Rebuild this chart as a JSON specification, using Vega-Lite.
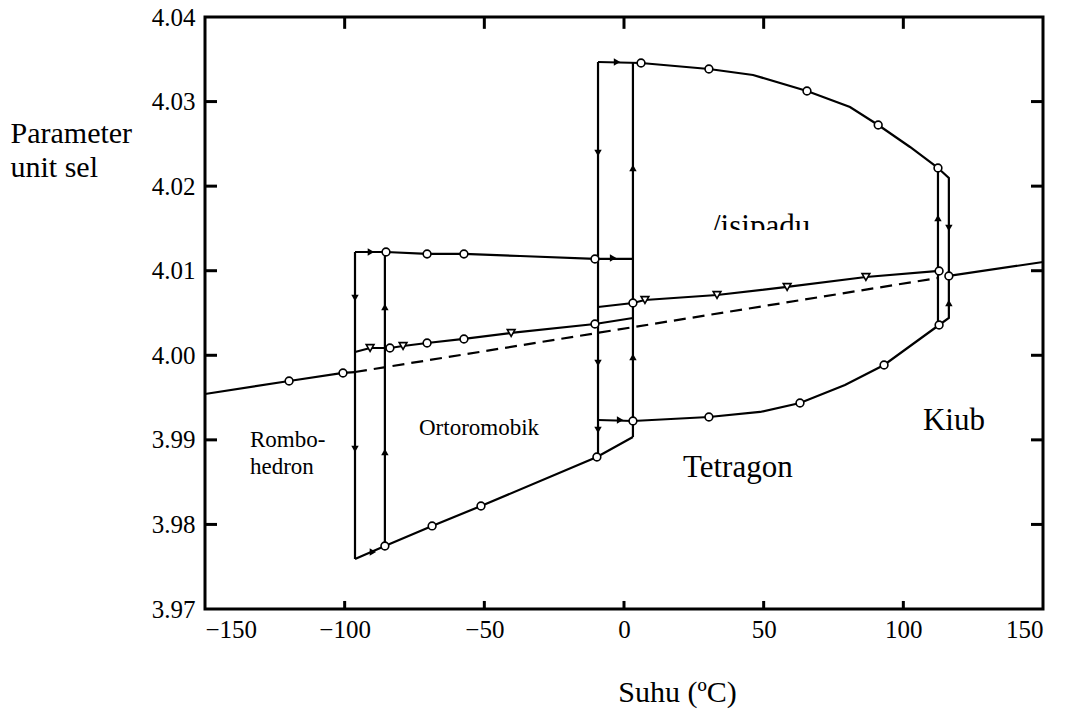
{
  "$schema": "https://vega.github.io/schema/vega-lite/v6.json",
  "width": 838,
  "height": 592,
  "autosize": {"type": "none"},
  "padding": {"left": 205, "top": 17, "right": 28, "bottom": 103},
  "background": "white",
  "config": {
    "view": {"stroke": "black", "strokeWidth": 3},
    "font": "Liberation Serif",
    "axis": {"domain": false, "grid": false, "ticks": false, "labelColor": "black", "titleColor": "black", "labelFont": "Liberation Serif", "titleFont": "Liberation Serif", "titleFontWeight": "normal"}
  },
  "resolve": {"axis": {"x": "independent", "y": "independent"}},
  "datasets": {
    "lines": [
      {"s": "cubicL", "o": 1, "x": -150, "y": 3.99542},
      {"s": "cubicL", "o": 2, "x": -119.9, "y": 3.99696},
      {"s": "cubicL", "o": 3, "x": -100.6, "y": 3.99791},
      {"s": "cubicL", "o": 4, "x": -96.3, "y": 3.99802},
      {"s": "cubicDash", "o": 1, "x": -96.3, "y": 3.99802},
      {"s": "cubicDash", "o": 2, "x": 112.4, "y": 4.00914},
      {"s": "cubicR", "o": 1, "x": 116.3, "y": 4.00938},
      {"s": "cubicR", "o": 2, "x": 150, "y": 4.01103},
      {"s": "orthoUpper", "o": 1, "x": -96.3, "y": 4.01221},
      {"s": "orthoUpper", "o": 2, "x": -85.2, "y": 4.01221},
      {"s": "orthoUpper", "o": 3, "x": -70.5, "y": 4.01198},
      {"s": "orthoUpper", "o": 4, "x": -57.3, "y": 4.01198},
      {"s": "orthoUpper", "o": 5, "x": -37.2, "y": 4.01174},
      {"s": "orthoUpper", "o": 6, "x": -10.4, "y": 4.01139},
      {"s": "orthoUpper", "o": 7, "x": 2.9, "y": 4.01139},
      {"s": "orthoLower", "o": 1, "x": -96.3, "y": 3.97591},
      {"s": "orthoLower", "o": 2, "x": -85.6, "y": 3.97745},
      {"s": "orthoLower", "o": 3, "x": -68.7, "y": 3.97982},
      {"s": "orthoLower", "o": 4, "x": -51.2, "y": 3.98218},
      {"s": "orthoLower", "o": 5, "x": -9.7, "y": 3.98797},
      {"s": "orthoLower", "o": 6, "x": 3.2, "y": 3.99034},
      {"s": "V1", "o": 1, "x": -96.3, "y": 4.01221},
      {"s": "V1", "o": 2, "x": -96.3, "y": 3.97591},
      {"s": "V2", "o": 1, "x": -85.6, "y": 4.01221},
      {"s": "V2", "o": 2, "x": -85.6, "y": 3.97745},
      {"s": "V3", "o": 1, "x": -9.3, "y": 4.03468},
      {"s": "V3", "o": 2, "x": -9.3, "y": 3.98797},
      {"s": "V4", "o": 1, "x": 3.2, "y": 4.03468},
      {"s": "V4", "o": 2, "x": 3.2, "y": 3.99034},
      {"s": "tetraC", "o": 1, "x": -9.3, "y": 4.03468},
      {"s": "tetraC", "o": 2, "x": 6.1, "y": 4.03456},
      {"s": "tetraC", "o": 3, "x": 30.4, "y": 4.03385},
      {"s": "tetraC", "o": 4, "x": 46.2, "y": 4.03314},
      {"s": "tetraC", "o": 5, "x": 65.5, "y": 4.03125},
      {"s": "tetraC", "o": 6, "x": 80.9, "y": 4.02936},
      {"s": "tetraC", "o": 7, "x": 91.0, "y": 4.02723},
      {"s": "tetraC", "o": 8, "x": 102.4, "y": 4.02463},
      {"s": "tetraC", "o": 9, "x": 112.4, "y": 4.02215},
      {"s": "tetraA", "o": 1, "x": -9.3, "y": 3.99235},
      {"s": "tetraA", "o": 2, "x": 3.2, "y": 3.99223},
      {"s": "tetraA", "o": 3, "x": 30.4, "y": 3.9927},
      {"s": "tetraA", "o": 4, "x": 48.7, "y": 3.9933},
      {"s": "tetraA", "o": 5, "x": 63.0, "y": 3.99436},
      {"s": "tetraA", "o": 6, "x": 79.1, "y": 3.99649},
      {"s": "tetraA", "o": 7, "x": 93.1, "y": 3.99885},
      {"s": "tetraA", "o": 8, "x": 112.8, "y": 4.00358},
      {"s": "V5", "o": 1, "x": 112.4, "y": 4.02215},
      {"s": "V5", "o": 2, "x": 112.4, "y": 4.00358},
      {"s": "V6", "o": 1, "x": 112.4, "y": 4.02215},
      {"s": "V6", "o": 2, "x": 116.3, "y": 4.02097},
      {"s": "V6", "o": 3, "x": 116.3, "y": 4.00441},
      {"s": "V6", "o": 4, "x": 112.8, "y": 4.00358},
      {"s": "lineA", "o": 1, "x": -96.3, "y": 4.00039},
      {"s": "lineA", "o": 2, "x": -90.9, "y": 4.00086},
      {"s": "lineA", "o": 3, "x": -83.8, "y": 4.00086},
      {"s": "lineA", "o": 4, "x": -79.1, "y": 4.0011},
      {"s": "lineA", "o": 5, "x": -70.5, "y": 4.00145},
      {"s": "lineA", "o": 6, "x": -57.3, "y": 4.00193},
      {"s": "lineA", "o": 7, "x": -40.4, "y": 4.00264},
      {"s": "lineA", "o": 8, "x": -10.4, "y": 4.0037},
      {"s": "lineA", "o": 9, "x": 3.2, "y": 4.00441},
      {"s": "lineB", "o": 1, "x": -9.3, "y": 4.00571},
      {"s": "lineB", "o": 2, "x": 3.2, "y": 4.00618},
      {"s": "lineB", "o": 3, "x": 7.5, "y": 4.00654},
      {"s": "lineB", "o": 4, "x": 33.3, "y": 4.00713},
      {"s": "lineB", "o": 5, "x": 58.4, "y": 4.00808},
      {"s": "lineB", "o": 6, "x": 86.6, "y": 4.00926},
      {"s": "lineB", "o": 7, "x": 112.8, "y": 4.00997}
    ],
    "points": [
      {"k": "circle", "x": -119.9, "y": 3.99696},
      {"k": "circle", "x": -100.6, "y": 3.99791},
      {"k": "circle", "x": -83.8, "y": 4.00086},
      {"k": "circle", "x": -70.5, "y": 4.00145},
      {"k": "circle", "x": -57.3, "y": 4.00193},
      {"k": "circle", "x": -10.4, "y": 4.0037},
      {"k": "triangle", "x": -90.9, "y": 4.00086},
      {"k": "triangle", "x": -79.1, "y": 4.0011},
      {"k": "triangle", "x": -40.4, "y": 4.00264},
      {"k": "circle", "x": 3.2, "y": 4.00618},
      {"k": "triangle", "x": 7.5, "y": 4.00654},
      {"k": "triangle", "x": 33.3, "y": 4.00713},
      {"k": "triangle", "x": 58.4, "y": 4.00808},
      {"k": "triangle", "x": 86.6, "y": 4.00926},
      {"k": "circle", "x": 112.8, "y": 4.00997},
      {"k": "circle", "x": 116.3, "y": 4.00938},
      {"k": "circle", "x": -85.2, "y": 4.01221},
      {"k": "circle", "x": -70.5, "y": 4.01198},
      {"k": "circle", "x": -57.3, "y": 4.01198},
      {"k": "circle", "x": -10.4, "y": 4.01139},
      {"k": "circle", "x": -85.6, "y": 3.97745},
      {"k": "circle", "x": -68.7, "y": 3.97982},
      {"k": "circle", "x": -51.2, "y": 3.98218},
      {"k": "circle", "x": -9.7, "y": 3.98797},
      {"k": "circle", "x": 6.1, "y": 4.03456},
      {"k": "circle", "x": 30.4, "y": 4.03385},
      {"k": "circle", "x": 65.5, "y": 4.03125},
      {"k": "circle", "x": 91.0, "y": 4.02723},
      {"k": "circle", "x": 112.4, "y": 4.02215},
      {"k": "circle", "x": 3.2, "y": 3.99223},
      {"k": "circle", "x": 30.4, "y": 3.9927},
      {"k": "circle", "x": 63.0, "y": 3.99436},
      {"k": "circle", "x": 93.1, "y": 3.99885},
      {"k": "circle", "x": 112.8, "y": 4.00358},
      {"k": "down", "x": -96.3, "y": 4.00677},
      {"k": "down", "x": -96.3, "y": 3.98892},
      {"k": "up", "x": -85.6, "y": 4.00571},
      {"k": "up", "x": -85.6, "y": 3.98857},
      {"k": "down", "x": -9.3, "y": 4.02392},
      {"k": "down", "x": -9.3, "y": 3.99909},
      {"k": "down", "x": -9.3, "y": 3.99117},
      {"k": "up", "x": 3.2, "y": 4.02215},
      {"k": "up", "x": 3.2, "y": 3.9998},
      {"k": "up", "x": 112.4, "y": 4.01623},
      {"k": "down", "x": 116.3, "y": 4.01505},
      {"k": "up", "x": 116.3, "y": 4.00618},
      {"k": "right", "x": -90.6, "y": 4.01221},
      {"k": "right", "x": -89.9, "y": 3.97674},
      {"k": "right", "x": -2.5, "y": 4.03468},
      {"k": "right", "x": -3.9, "y": 4.01151},
      {"k": "right", "x": -1.4, "y": 3.99235}
    ],
    "labels": [
      {"g": "small", "t": "Rombo-", "x": -133.9, "y": 3.98916},
      {"g": "small", "t": "hedron", "x": -133.9, "y": 3.98596},
      {"g": "small", "t": "Ortoromobik", "x": -73.4, "y": 3.99058},
      {"g": "large", "t": "Tetragon", "x": 21.1, "y": 3.98561},
      {"g": "large", "t": "Kiub", "x": 107.0, "y": 3.99117},
      {"g": "large", "t": "/isipadu", "x": 31.5, "y": 4.01411}
    ],
    "mask": [
      {"x": 28, "x2": 76, "y": 4.01482, "y2": 4.0124}
    ],
    "ticksY": [
      {"v": 3.98}, {"v": 3.99}, {"v": 4.0}, {"v": 4.01}, {"v": 4.02}, {"v": 4.03}
    ],
    "ticksX": [
      {"v": -100}, {"v": -50}, {"v": 0}, {"v": 50}, {"v": 100}
    ]
  },
  "layer": [
    {
      "data": {"name": "lines"},
      "transform": [{"filter": "datum.s !== 'cubicDash'"}],
      "mark": {"type": "line", "color": "black", "strokeWidth": 2.2},
      "encoding": {
        "x": {"field": "x", "type": "quantitative", "scale": {"domain": [-150, 150], "nice": false, "zero": false}, "axis": {"orient": "bottom", "values": [-150, -100, -50, 0, 50, 100, 150], "format": "d", "labelFontSize": 25, "labelPadding": 8, "title": "Suhu (ºC)", "titleFontSize": 30, "titleX": 472, "titleY": 92, "titleBaseline": "alphabetic", "titleAlign": "center", "titleAnchor": "start"}},
        "y": {"field": "y", "type": "quantitative", "scale": {"domain": [3.97, 4.04], "nice": false, "zero": false}, "axis": {"orient": "left", "values": [3.97, 3.98, 3.99, 4.0, 4.01, 4.02, 4.03, 4.04], "format": ".2f", "labelFontSize": 25, "labelPadding": 10, "title": ["Parameter", "unit sel"], "titleFontSize": 30, "titleLineHeight": 34, "titleAngle": 0, "titleAlign": "left", "titleBaseline": "alphabetic", "titleX": -195, "titleY": 125, "titleAnchor": "start"}},
        "detail": {"field": "s"},
        "order": {"field": "o", "type": "quantitative"}
      }
    },
    {
      "data": {"name": "ticksY"},
      "mark": {"type": "rule", "color": "black", "strokeWidth": 3},
      "encoding": {
        "y": {"field": "v", "type": "quantitative", "axis": null},
        "x": {"datum": -150, "type": "quantitative", "axis": null},
        "x2": {"datum": -145.7}
      }
    },
    {
      "data": {"name": "ticksY"},
      "mark": {"type": "rule", "color": "black", "strokeWidth": 3},
      "encoding": {
        "y": {"field": "v", "type": "quantitative", "axis": null},
        "x": {"datum": 145.7, "type": "quantitative", "axis": null},
        "x2": {"datum": 150}
      }
    },
    {
      "data": {"name": "ticksX"},
      "mark": {"type": "rule", "color": "black", "strokeWidth": 3},
      "encoding": {
        "x": {"field": "v", "type": "quantitative", "axis": null},
        "y": {"datum": 3.97, "type": "quantitative", "axis": null},
        "y2": {"datum": 3.97095}
      }
    },
    {
      "data": {"name": "ticksX"},
      "mark": {"type": "rule", "color": "black", "strokeWidth": 3},
      "encoding": {
        "x": {"field": "v", "type": "quantitative", "axis": null},
        "y": {"datum": 4.0386, "type": "quantitative", "axis": null},
        "y2": {"datum": 4.04}
      }
    },
    {
      "data": {"name": "lines"},
      "transform": [{"filter": "datum.s === 'cubicDash'"}],
      "mark": {"type": "line", "color": "black", "strokeWidth": 2.2, "strokeDash": [12, 7]},
      "encoding": {
        "x": {"field": "x", "type": "quantitative", "axis": null},
        "y": {"field": "y", "type": "quantitative", "axis": null},
        "order": {"field": "o", "type": "quantitative"}
      }
    },
    {
      "data": {"name": "points"},
      "transform": [{"filter": "datum.k === 'circle'"}],
      "mark": {"type": "point", "shape": "circle", "filled": true, "fill": "white", "stroke": "black", "strokeWidth": 1.6, "size": 60, "opacity": 1},
      "encoding": {
        "x": {"field": "x", "type": "quantitative", "axis": null},
        "y": {"field": "y", "type": "quantitative", "axis": null}
      }
    },
    {
      "data": {"name": "points"},
      "transform": [{"filter": "datum.k === 'triangle'"}],
      "mark": {"type": "point", "shape": "triangle-down", "filled": true, "fill": "white", "stroke": "black", "strokeWidth": 1.6, "size": 60, "opacity": 1},
      "encoding": {
        "x": {"field": "x", "type": "quantitative", "axis": null},
        "y": {"field": "y", "type": "quantitative", "axis": null}
      }
    },
    {
      "data": {"name": "points"},
      "transform": [{"filter": "datum.k === 'up' || datum.k === 'down' || datum.k === 'right'"}],
      "mark": {"type": "point", "filled": true, "color": "black", "size": 55, "opacity": 1},
      "encoding": {
        "x": {"field": "x", "type": "quantitative", "axis": null},
        "y": {"field": "y", "type": "quantitative", "axis": null},
        "shape": {"field": "k", "type": "nominal", "scale": {"domain": ["up", "down", "right"], "range": ["triangle-up", "triangle-down", "triangle-right"]}, "legend": null}
      }
    },
    {
      "data": {"name": "labels"},
      "transform": [{"filter": "datum.g === 'small'"}],
      "mark": {"type": "text", "align": "left", "baseline": "alphabetic", "font": "Liberation Serif", "fontSize": 23, "color": "black"},
      "encoding": {
        "x": {"field": "x", "type": "quantitative", "axis": null},
        "y": {"field": "y", "type": "quantitative", "axis": null},
        "text": {"field": "t"}
      }
    },
    {
      "data": {"name": "labels"},
      "transform": [{"filter": "datum.g === 'large'"}],
      "mark": {"type": "text", "align": "left", "baseline": "alphabetic", "font": "Liberation Serif", "fontSize": 31, "color": "black"},
      "encoding": {
        "x": {"field": "x", "type": "quantitative", "axis": null},
        "y": {"field": "y", "type": "quantitative", "axis": null},
        "text": {"field": "t"}
      }
    },
    {
      "data": {"name": "mask"},
      "mark": {"type": "rect", "color": "white", "opacity": 1},
      "encoding": {
        "x": {"field": "x", "type": "quantitative", "axis": null},
        "y": {"field": "y", "type": "quantitative", "axis": null},
        "x2": {"field": "x2"},
        "y2": {"field": "y2"}
      }
    }
  ]
}
